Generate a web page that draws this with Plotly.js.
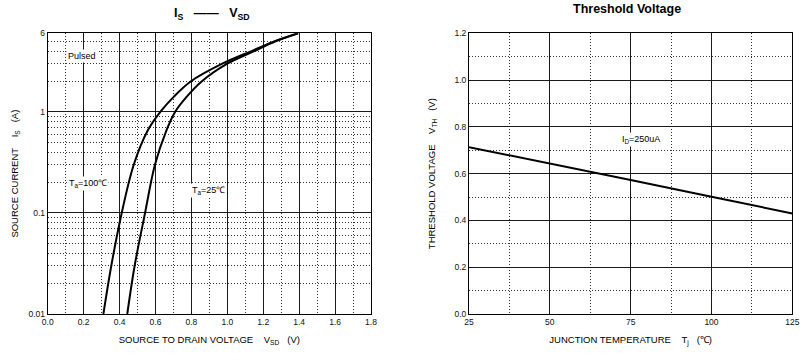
<!DOCTYPE html>
<html>
<head>
<meta charset="utf-8">
<script src="https://cdn.plot.ly/plotly-3.0.1.min.js"></script>
<style>html,body{margin:0;padding:0;background:#fff;}#chart{width:806px;height:361px;}</style>
</head>
<body>
<div id="chart"></div>
<script>
// Left chart: source current Is vs source-to-drain voltage Vsd (log y)
const currentIs = [0.01, 0.03, 0.1, 0.3, 0.65, 1, 1.4, 2, 3, 4, 5, 6];
const vsd100C = [0.310, 0.354, 0.412, 0.479, 0.556, 0.627, 0.700, 0.796, 0.972, 1.135, 1.265, 1.393];
const vsd25C  = [0.443, 0.484, 0.542, 0.597, 0.660, 0.709, 0.772, 0.857, 1.000, 1.150, 1.268, 1.395];
const leftYTickVals = [0.01, 0.1, 1, 6];
const leftYTickText = ['0.01', '0.1', '1', '6'];
const leftYMinorVals = [0.02,0.03,0.04,0.05,0.06,0.07,0.08,0.09,0.2,0.3,0.4,0.5,0.6,0.7,0.8,0.9,2,3,4,5];

// Right chart: threshold voltage vs junction temperature
const junctionTemp = [25, 50, 75, 100, 125];
const thresholdV = [0.713, 0.644, 0.573, 0.501, 0.430];

const NB = '\u00a0';
const font = 'Liberation Sans, Arial, sans-serif';
const tickFont = {family: font, size: 8.5, color: '#111'};
const titleFont = {family: font, size: 9.5, color: '#000'};
const majorGrid = '#1a1a1a';
const minorGrid = '#333';
const dotDash = '1px,2px';

const traces = [
  {x: vsd100C, y: currentIs, xaxis: 'x', yaxis: 'y', mode: 'lines', name: 'Ta=100℃',
   line: {color: '#000', width: 2, shape: 'spline', smoothing: 1}},
  {x: vsd25C, y: currentIs, xaxis: 'x', yaxis: 'y', mode: 'lines', name: 'Ta=25℃',
   line: {color: '#000', width: 2, shape: 'spline', smoothing: 1}},
  {x: junctionTemp, y: thresholdV, xaxis: 'x2', yaxis: 'y2', mode: 'lines', name: 'Vth',
   line: {color: '#000', width: 2}}
];

function axisBase() {
  return {
    showline: true, mirror: true, linecolor: '#000', linewidth: 1,
    showgrid: true, gridcolor: majorGrid, gridwidth: 1,
    zeroline: false, ticks: '', tickfont: tickFont, automargin: false, fixedrange: true
  };
}

const layout = {
  width: 806, height: 361,
  margin: {l: 0, r: 0, t: 0, b: 0},
  paper_bgcolor: '#fff', plot_bgcolor: '#fff',
  showlegend: false,
  font: {family: font},
  xaxis: Object.assign(axisBase(), {
    domain: [0.0592, 0.4603], range: [0, 1.8], dtick: 0.2, tick0: 0, tickformat: '.1f',
    minor: {dtick: 0.1, tick0: 0, showgrid: true, gridcolor: minorGrid, griddash: dotDash, gridwidth: 1},
    title: {text: 'SOURCE TO DRAIN VOLTAGE' + NB.repeat(4) + 'V<sub>SD</sub>' + NB.repeat(3) + '(V)', font: titleFont, standoff: 10},
    anchor: 'y'
  }),
  yaxis: Object.assign(axisBase(), {
    domain: [0.1302, 0.9078], type: 'log', range: [-2, Math.log10(6)],
    tickmode: 'array', tickvals: leftYTickVals, ticktext: leftYTickText,
    minor: {tickmode: 'array', tickvals: leftYMinorVals, showgrid: true, gridcolor: minorGrid, griddash: dotDash, gridwidth: 1},
    title: {text: 'SOURCE CURRENT' + NB.repeat(4) + 'I<sub>S</sub>' + NB.repeat(3) + '(A)', font: titleFont, standoff: 8},
    anchor: 'x'
  }),
  xaxis2: Object.assign(axisBase(), {
    domain: [0.5819, 0.9830], range: [25, 125], dtick: 25, tick0: 25,
    minor: {dtick: 12.5, tick0: 25, showgrid: true, gridcolor: minorGrid, griddash: dotDash, gridwidth: 1},
    title: {text: 'JUNCTION TEMPERATURE' + NB.repeat(4) + 'T<sub>j</sub>' + NB.repeat(3) + '(℃)', font: titleFont, standoff: 10},
    anchor: 'y2'
  }),
  yaxis2: Object.assign(axisBase(), {
    domain: [0.1302, 0.9078], range: [0, 1.2], dtick: 0.2, tick0: 0, tickformat: '.1f',
    minor: {dtick: 0.1, tick0: 0, showgrid: true, gridcolor: minorGrid, griddash: dotDash, gridwidth: 1},
    title: {text: 'THRESHOLD VOLTAGE' + NB.repeat(4) + 'V<sub>TH</sub>' + NB.repeat(3) + '(V)', font: titleFont, standoff: 17},
    anchor: 'x2'
  }),
  annotations: [
    {xref: 'paper', yref: 'paper', x: 0.2625, y: 1 - 14/361, yanchor: 'middle', xanchor: 'center', showarrow: false,
     text: '<b>I<sub>S</sub>' + NB + NB + NB + '——' + NB + NB + NB + 'V<sub>SD</sub></b>', font: {family: font, size: 12.5, color: '#000'}},
    {xref: 'paper', yref: 'paper', x: 0.7779, y: 1 - 9.5/361, yanchor: 'middle', xanchor: 'center', showarrow: false,
     text: '<b>Threshold Voltage</b>', font: {family: font, size: 12.5, color: '#000'}},
    {xref: 'x', yref: 'y', x: 0.191, y: 0.554, showarrow: false, text: 'Pulsed',
     bgcolor: '#fff', borderpad: 1, font: {family: font, size: 9, color: '#000'}},
    {xref: 'x', yref: 'y', x: 0.224, y: -0.706, showarrow: false, text: 'T<sub>a</sub>=100℃',
     bgcolor: '#fff', borderpad: 1, font: {family: font, size: 9, color: '#000'}},
    {xref: 'x', yref: 'y', x: 0.894, y: -0.779, showarrow: false, text: 'T<sub>a</sub>=25℃',
     bgcolor: '#fff', borderpad: 1, font: {family: font, size: 9, color: '#000'}},
    {xref: 'x2', yref: 'y2', x: 78.2, y: 0.744, showarrow: false, text: 'I<sub>D</sub>=250uA',
     bgcolor: '#fff', borderpad: 1, font: {family: font, size: 9, color: '#000'}}
  ]
};

Plotly.newPlot('chart', traces, layout, {staticPlot: true, displayModeBar: false});
</script>
</body>
</html>
